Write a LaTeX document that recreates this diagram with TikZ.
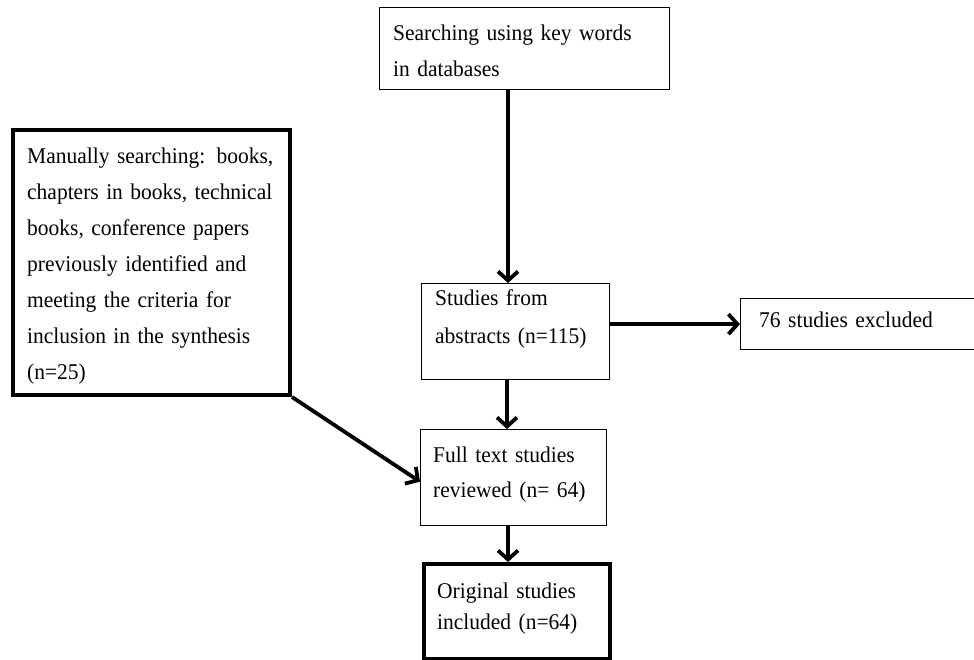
\documentclass[tikz,border=0pt]{standalone}
\usepackage{fontspec}
\setmainfont[FakeStretch=0.955]{Liberation Serif}
\usetikzlibrary{arrows.meta}
\begin{document}
\begin{tikzpicture}[x=1pt,y=-1pt,
  thinbox/.style={draw, line width=1.3pt, inner sep=0pt, anchor=north west},
  thickbox/.style={draw, line width=4pt, inner sep=0pt, anchor=north west},
  txt/.style={inner sep=0pt, anchor=base west, align=left, text width=#1,
    font=\fontsize{22.5}{36}\selectfont},
  txt/.default=300pt,
  flow/.style={line width=3.8pt, -{Straight Barb[length=9pt,width=20pt,line width=3.8pt]}}]
\useasboundingbox (0,0) rectangle (974,659);

% boxes
\node[thinbox, minimum width=290pt, minimum height=82pt] (search) at (379,7) {};
\node[thickbox, minimum width=277pt, minimum height=265pt] (manual) at (11,128) {};
\node[thinbox, minimum width=188pt, minimum height=96pt] (studies) at (421,283) {};
\node[thinbox, minimum width=240pt, minimum height=51pt] (excl) at (740,298) {};
\node[thinbox, minimum width=186pt, minimum height=96pt] (full) at (420,429) {};
\node[thickbox, minimum width=186pt, minimum height=95pt] (orig) at (422,562) {};

% box texts
\node[txt] (tsearch) at (393,40) {Searching using key words\\in databases};
\node[txt] (tmanual) at (27,163) {Manually searching: books,\\chapters in books, technical\\books, conference papers\\previously identified and\\meeting the criteria for\\inclusion in the synthesis\\(n=25)};
\node[txt, font=\fontsize{22.5}{38}\selectfont] (tstudies) at (435,305) {Studies from\\abstracts (n=115)};
\node[txt] (texcl) at (759,327) {76 studies excluded};
\node[txt, font=\fontsize{22.5}{35}\selectfont] (tfull) at (433,462) {Full text studies\\reviewed (n= 64)};
\node[txt, font=\fontsize{22.5}{31}\selectfont] (torig) at (437,598) {Original studies\\included (n=64)};

% connectors
\coordinate (xa) at (508,0);
\coordinate (xb) at (507,0);
\draw[flow] (search.south -| xa) -- (studies.north -| xa);
\draw[flow] (studies.east |- excl.west) -- (excl.west);
\draw[flow] (studies.south -| xb) -- (full.north -| xb);
\draw[flow] (manual.south east) -- ([yshift=-4pt]full.west);
\draw[flow] (full.south -| xa) -- (orig.north -| xa);
\end{tikzpicture}
\end{document}
